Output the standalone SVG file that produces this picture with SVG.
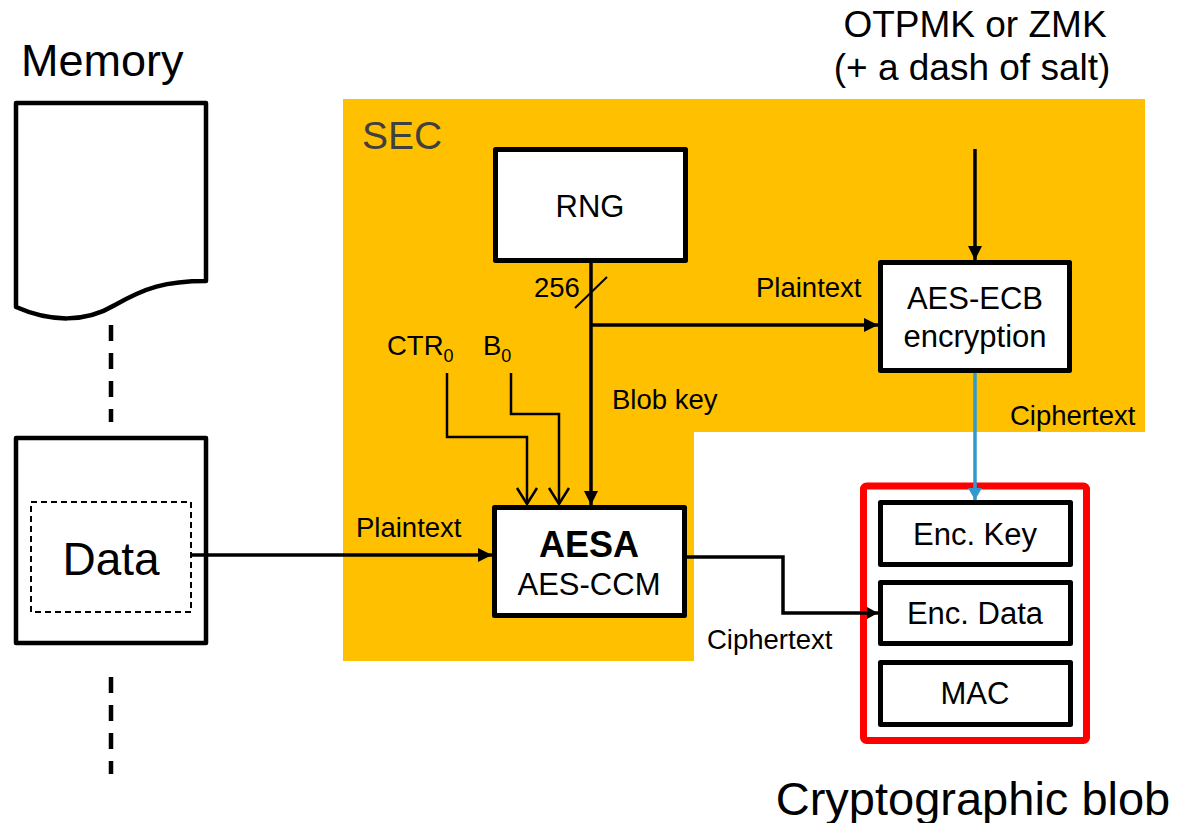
<svg xmlns="http://www.w3.org/2000/svg" width="1178" height="823" viewBox="0 0 1178 823">
  <style>
    text { font-family: "Liberation Sans", Arial, sans-serif; fill: #000; }
    .lbl { font-size: 27.5px; }
    .node { font-size: 31px; text-anchor: middle; }
    .big { font-size: 46px; }
    .box { fill: #fff; stroke: #000; stroke-width: 5; stroke-linejoin: round; }
    .wire { fill: none; stroke: #000; stroke-width: 3.5; }
    .thin { fill: none; stroke: #000; stroke-width: 2.5; }
    .mem { fill: none; stroke: #000; stroke-width: 4.5; stroke-dasharray: 16 12; }
  </style>
  <defs>
    <marker id="arr" viewBox="0 0 14 14" refX="14" refY="7" markerWidth="14" markerHeight="14" orient="auto" markerUnits="userSpaceOnUse">
      <path d="M0,0 L14,7 L0,14 z" fill="#000"/>
    </marker>
    <marker id="arrS" viewBox="0 0 11 12" refX="11" refY="6" markerWidth="11" markerHeight="12" orient="auto" markerUnits="userSpaceOnUse">
      <path d="M0,0 L11,6 L0,12 z" fill="#000"/>
    </marker>
    <marker id="arrB" viewBox="0 0 12 14" refX="12" refY="7" markerWidth="12" markerHeight="14" orient="auto" markerUnits="userSpaceOnUse">
      <path d="M0,0 L12,7 L0,14 z" fill="#3399CC"/>
    </marker>
    <marker id="open" viewBox="-2 -2 20 24" refX="16" refY="10" markerWidth="20" markerHeight="24" orient="auto" markerUnits="userSpaceOnUse">
      <path d="M0,0 L16,10 L0,20" fill="none" stroke="#000" stroke-width="2.5"/>
    </marker>
  </defs>

  <!-- SEC block background -->
  <g id="sec">
    <path d="M343,99 H1145 V432 H694 V661 H343 Z" fill="#FFC000"/>
    <text x="362" y="149" style="font-size:39px;fill:#404040">SEC</text>
  </g>

  <!-- headings -->
  <text x="21" y="76" style="font-size:45px">Memory</text>
  <text x="975" y="37" style="font-size:37px" text-anchor="middle">OTPMK or ZMK</text>
  <text x="972" y="80" style="font-size:37px" text-anchor="middle">(+ a dash of salt)</text>
  <text x="973" y="815" style="font-size:47px" text-anchor="middle">Cryptographic blob</text>

  <!-- memory document -->
  <g id="memory-doc">
    <path d="M16,307 C50,322 85,323 115,305 C145,288 165,281 206,281 V103 H16 Z" fill="#fff" stroke="#000" stroke-width="4.5" stroke-linejoin="round"/>
  </g>

  <g id="memory-data">
    <rect x="16" y="438" width="190" height="205" fill="#fff" stroke="#000" stroke-width="4.5" stroke-linejoin="round"/>
    <rect x="31" y="502" width="160" height="110" fill="none" stroke="#000" stroke-width="2" stroke-dasharray="6 4"/>
    <text class="big" x="111" y="575" text-anchor="middle">Data</text>
  </g>

  <!-- cryptographic blob container -->
  <g id="blob">
    <rect x="863.5" y="486" width="223" height="254.5" rx="3" fill="none" stroke="#FF0000" stroke-width="7"/>
  </g>

  <!-- connectors -->
  <g id="connectors">
    <line class="mem" x1="111" y1="325" x2="111" y2="422"/>
    <line class="mem" x1="111" y1="677" x2="111" y2="774"/>
    <path class="wire" d="M192,555 H492" marker-end="url(#arr)"/>
    <path class="wire" d="M591,263 V505" marker-end="url(#arr)"/>
    <path class="wire" d="M591,325 H878" marker-end="url(#arr)"/>
    <line x1="575" y1="308" x2="607" y2="277" stroke="#000" stroke-width="2"/>
    <path class="wire" d="M975,149 V260" marker-end="url(#arr)"/>
    <path class="thin" d="M447,373 V437 H527 V504" marker-end="url(#open)"/>
    <path class="thin" d="M511,373 V414 H559 V504" marker-end="url(#open)"/>
    <path class="wire" d="M687,557 H783 V613 H878" marker-end="url(#arrS)"/>
    <path d="M975,373 V500" fill="none" stroke="#3399CC" stroke-width="3.5" marker-end="url(#arrB)"/>
  </g>

  <!-- connector labels -->
  <g id="labels">
    <text class="lbl" x="534" y="297">256</text>
    <text class="lbl" x="756" y="297">Plaintext</text>
    <text class="lbl" x="612" y="409">Blob key</text>
    <text class="lbl" x="1010" y="425">Ciphertext</text>
    <text class="lbl" x="356" y="537">Plaintext</text>
    <text class="lbl" x="707" y="649">Ciphertext</text>
    <text class="lbl" x="387" y="355">CTR<tspan dy="7" style="font-size:18px">0</tspan></text>
    <text class="lbl" x="483" y="355">B<tspan dy="7" style="font-size:18px">0</tspan></text>
  </g>

  <g id="rng">
    <rect class="box" x="495.5" y="149.5" width="190" height="111"/>
    <text class="node" x="590" y="217">RNG</text>
  </g>

  <g id="aes-ecb">
    <rect class="box" x="880.5" y="262.5" width="189" height="108"/>
    <text class="node" x="975" y="309">AES-ECB</text>
    <text class="node" x="975" y="347">encryption</text>
  </g>

  <g id="aesa">
    <rect class="box" x="494.5" y="507.5" width="190" height="108"/>
    <text class="node" x="589" y="557" style="font-size:36px;font-weight:bold">AESA</text>
    <text class="node" x="589" y="595">AES-CCM</text>
  </g>

  <g id="enc-key">
    <rect class="box" x="880.5" y="502.5" width="190" height="62"/>
    <text class="node" x="975" y="545">Enc. Key</text>
  </g>
  <g id="enc-data">
    <rect class="box" x="880.5" y="582.5" width="190" height="61"/>
    <text class="node" x="975" y="624">Enc. Data</text>
  </g>
  <g id="mac">
    <rect class="box" x="880.5" y="662.5" width="190" height="62"/>
    <text class="node" x="975" y="704">MAC</text>
  </g>
</svg>
